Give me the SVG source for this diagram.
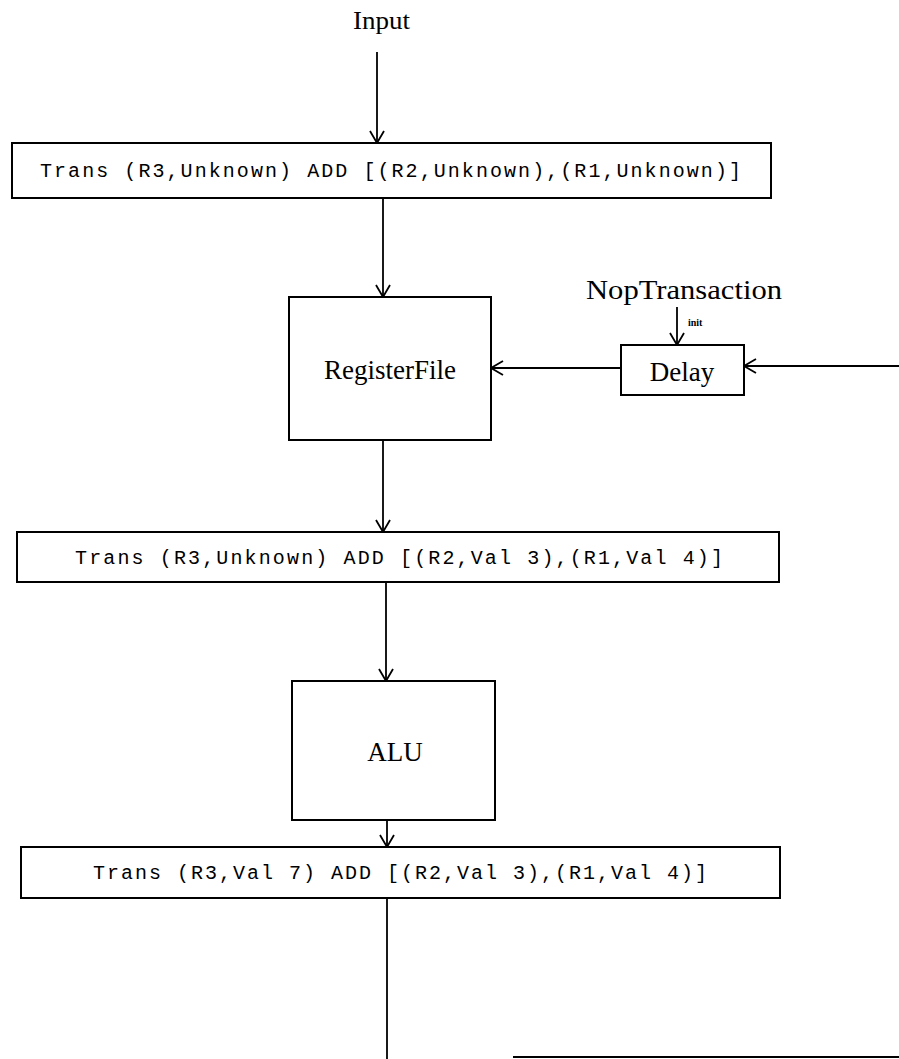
<svg xmlns="http://www.w3.org/2000/svg" width="899" height="1059" viewBox="0 0 899 1059">
  <style>
    .box { fill: #fff; stroke: #000; stroke-width: 2; }
    .wire { fill: none; stroke: #000; stroke-width: 1.8; }
    .serif { font-family: "Liberation Serif", "Times New Roman", serif; fill: #000; }
    .mono { font-family: "Liberation Mono", "Courier New", monospace; font-size: 20px; fill: #000; }
  </style>
  <defs>
    <marker id="arrow" markerWidth="16" markerHeight="16" refX="13" refY="8" orient="auto" markerUnits="userSpaceOnUse">
      <path d="M1,1 L13,8 L1,15" fill="none" stroke="#000" stroke-width="1.8"/>
    </marker>
  </defs>

  <rect width="899" height="1059" fill="#fff"/>

  <!-- connectors -->
  <g id="connectors" class="wire">
    <line x1="377" y1="52" x2="377" y2="143" marker-end="url(#arrow)"/>
    <line x1="383" y1="198" x2="383" y2="297" marker-end="url(#arrow)"/>
    <line x1="677" y1="307" x2="677" y2="345" marker-end="url(#arrow)"/>
    <line x1="899" y1="366" x2="744" y2="366" marker-end="url(#arrow)"/>
    <line x1="621" y1="368" x2="491" y2="368" marker-end="url(#arrow)"/>
    <line x1="383" y1="440" x2="383" y2="532" marker-end="url(#arrow)"/>
    <line x1="386" y1="582" x2="386" y2="681" marker-end="url(#arrow)"/>
    <line x1="387" y1="820" x2="387" y2="847" marker-end="url(#arrow)"/>
    <line x1="387" y1="898" x2="387" y2="1059"/>
    <line x1="513" y1="1057" x2="899" y2="1057"/>
  </g>

  <!-- free labels -->
  <text class="serif" x="353" y="29" font-size="26" textLength="57" lengthAdjust="spacingAndGlyphs">Input</text>
  <text class="serif" x="586" y="299" font-size="27" textLength="196" lengthAdjust="spacingAndGlyphs">NopTransaction</text>
  <text class="serif" x="688" y="326" font-size="10" font-weight="bold">init</text>

  <g id="trans-in">
    <rect class="box" x="12" y="143" width="759" height="55"/>
    <text class="mono" x="40" y="177" textLength="701" lengthAdjust="spacing">Trans (R3,Unknown) ADD [(R2,Unknown),(R1,Unknown)]</text>
  </g>

  <g id="register-file">
    <rect class="box" x="289" y="297" width="202" height="143"/>
    <text class="serif" x="390" y="379" font-size="27" text-anchor="middle">RegisterFile</text>
  </g>

  <g id="delay">
    <rect class="box" x="621" y="345" width="123" height="50"/>
    <text class="serif" x="682" y="381" font-size="27" text-anchor="middle">Delay</text>
  </g>

  <g id="trans-read">
    <rect class="box" x="17" y="532" width="762" height="50"/>
    <text class="mono" x="75" y="564" textLength="648" lengthAdjust="spacing">Trans (R3,Unknown) ADD [(R2,Val 3),(R1,Val 4)]</text>
  </g>

  <g id="alu">
    <rect class="box" x="292" y="681" width="203" height="139"/>
    <text class="serif" x="395" y="761" font-size="27" text-anchor="middle">ALU</text>
  </g>

  <g id="trans-out">
    <rect class="box" x="21" y="847" width="759" height="51"/>
    <text class="mono" x="93" y="879" textLength="614" lengthAdjust="spacing">Trans (R3,Val 7) ADD [(R2,Val 3),(R1,Val 4)]</text>
  </g>
</svg>
